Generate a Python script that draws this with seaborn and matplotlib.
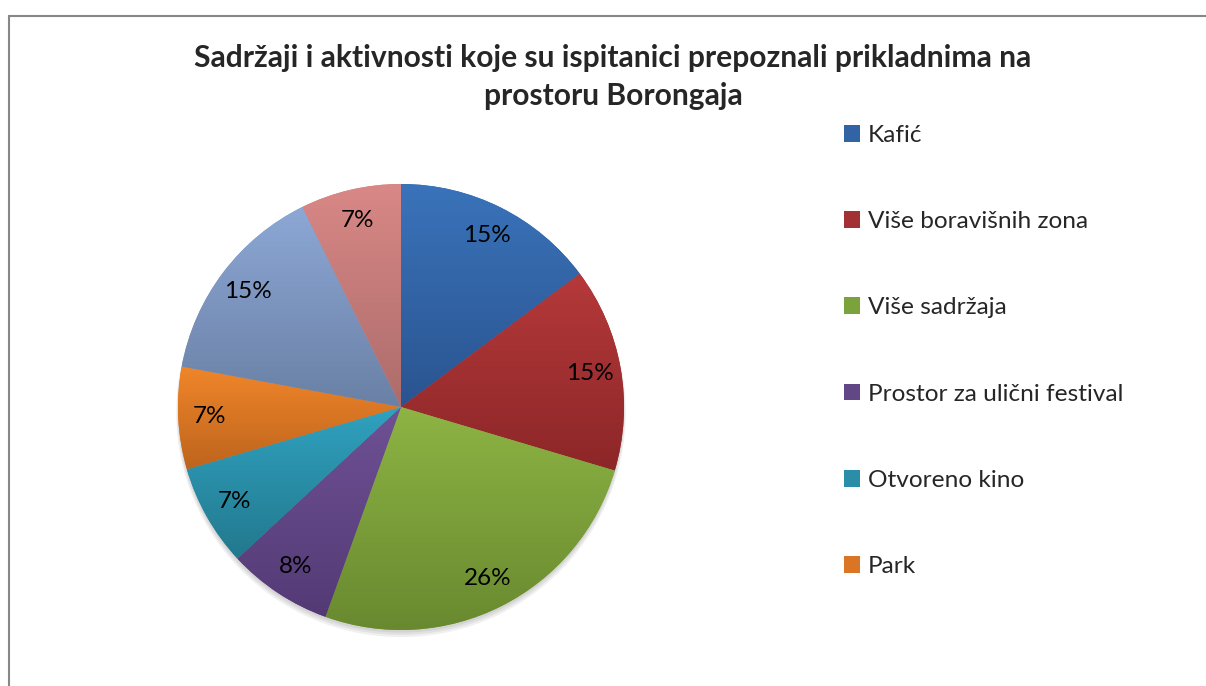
import matplotlib
matplotlib.use("Agg")
import matplotlib.pyplot as plt
from matplotlib.colors import LinearSegmentedColormap
from matplotlib.patches import Rectangle, Circle
import seaborn as sns
import numpy as np


# --------------------------------------------------------------------------------------------------
# dados:

TITLE = "Sadržaji i aktivnosti koje su ispitanici prepoznali prikladnima na\nprostoru Borongaja"

categories = ["Kafić", "Više boravišnih zona", "Više sadržaja",
              "Prostor za ulični festival", "Otvoreno kino", "Park"]

# 8 fatias; as duas últimas não aparecem na legenda visível
shares = [14.8, 14.8, 25.9, 7.6, 7.4, 7.4, 14.8, 7.3]

# cores base + gradiente (topo, base) no estilo do Excel
base_colors = ["#3163A5", "#A33133", "#7CA23C", "#614785", "#2A8EA8", "#DA7526", "#7C95C0", "#C47D7B"]
grad_top = ["#3A73BA", "#B5393A", "#8DB444", "#6F5195", "#30A2C0", "#F0862A", "#8DA8D6", "#D98886"]
grad_bot = ["#2A5490", "#8C2628", "#69892F", "#533A75", "#22788D", "#BE641D", "#6A80A5", "#AC6C6B"]


# --------------------------------------------------------------------------------------------------

sns.set_style("white")
plt.rcParams["font.family"] = ["Lato", "DejaVu Sans"]

W, H = 1206, 686
fig = plt.figure(figsize=(W / 100, H / 100), dpi=100)

# moldura cinza (cortada à direita e em baixo)
fig.patches.append(Rectangle((8.5 / W, -0.1), 1.2, (H - 15.5) / H + 0.1, transform=fig.transFigure,
                             fill=False, edgecolor="#878787", linewidth=1.5))

cx, cy, r = 401, 407, 223
ax = fig.add_axes([(cx - r) / W, (H - cy - r) / H, 2 * r / W, 2 * r / H])

palette = sns.color_palette(base_colors)

# sombra leve
for k, a in enumerate([0.06, 0.06, 0.06]):
    ax.add_patch(Circle((0, -0.012 - 0.006 * k), 1.0 + 0.004 * k, color="black", alpha=a,
                        linewidth=0, zorder=0, clip_on=False))

wedges, texts, autotexts = ax.pie(
    shares, colors=palette, startangle=90, counterclock=False, radius=1,
    autopct="%.0f%%", pctdistance=0.86,
    wedgeprops=dict(linewidth=0), textprops=dict(fontsize=17.5, color="black"),
)

grad = np.linspace(0, 1, 256).reshape(-1, 1)
for w, ct, cb in zip(wedges, grad_top, grad_bot):
    w.set_zorder(1)
    bb = w.get_path().get_extents()
    cmap = LinearSegmentedColormap.from_list("g", [cb, ct])
    im = ax.imshow(grad, cmap=cmap, origin="lower", aspect="auto", interpolation="bilinear",
                   extent=[bb.x0, bb.x1, bb.y0, bb.y1], zorder=1.5)
    im.set_clip_path(w)

for t in autotexts:
    t.set_zorder(5)

ax.set_xlim(-1, 1)
ax.set_ylim(-1, 1)
ax.set_aspect("equal")
ax.axis("off")

fig.text(613 / W, 1 - 44 / H, TITLE, ha="center", va="top", fontsize=21.6, fontweight="bold",
         linespacing=1.45)

fig.legend(wedges[:6], categories, loc="upper left", bbox_to_anchor=(834 / W, 1 - 115 / H),
           frameon=False, fontsize=17.6, handlelength=0.68, handleheight=0.68, handletextpad=0.3,
           labelspacing=2.67, borderaxespad=0)

plt.savefig("out.png", dpi=100)
plt.close()

print("Saved out.png")
